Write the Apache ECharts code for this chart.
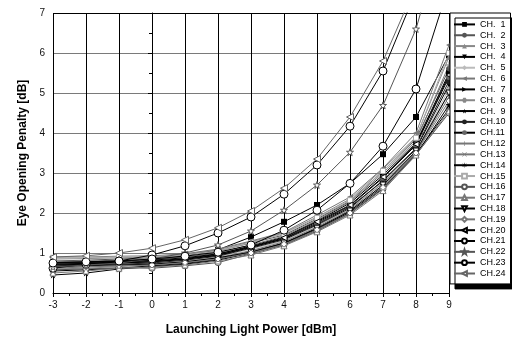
<!DOCTYPE html>
<html><head><meta charset="utf-8">
<script src="https://cdn.jsdelivr.net/npm/echarts@6/dist/echarts.min.js"></script>
<style>html,body{margin:0;padding:0;background:#fff}#c{width:512px;height:341px}</style>
</head><body><div id="c"></div>
<script>
const xValues = [-3,-2,-1,0,1,2,3,4,5,6,7,8,9];
const xTicks = [-3,-2,-1,0,1,2,3,4,5,6,7,8,9];
const yTicks = [0,1,2,3,4,5,6,7];
const channelNames = ['CH.  1','CH.  2','CH.  3','CH.  4','CH.  5','CH.  6','CH.  7','CH.  8','CH.  9','CH.10','CH.11','CH.12','CH.13','CH.14','CH.15','CH.16','CH.17','CH.18','CH.19','CH.20','CH.21','CH.22','CH.23','CH.24'];
const ch1  = [0.72,0.74,0.77,0.83,0.93,1.08,1.40,1.78,2.20,2.74,3.47,4.40,5.95];
const ch2  = [0.80,0.82,0.85,0.88,0.95,1.05,1.25,1.45,1.85,2.30,3.05,3.85,5.60];
const ch3  = [0.85,0.86,0.88,0.90,0.97,1.08,1.28,1.50,1.90,2.35,3.10,3.90,5.90];
const ch4  = [0.70,0.72,0.75,0.78,0.85,0.95,1.15,1.35,1.72,2.15,2.80,3.60,5.20];
const ch5  = [0.65,0.68,0.70,0.74,0.80,0.90,1.10,1.30,1.68,2.10,2.78,3.55,5.10];
const ch6  = [0.90,0.90,0.92,0.93,0.98,1.10,1.30,1.52,1.95,2.40,3.12,4.00,6.20];
const ch7  = [0.75,0.76,0.78,0.80,0.86,0.97,1.18,1.40,1.80,2.25,2.95,3.75,5.50];
const ch8  = [0.60,0.62,0.66,0.70,0.76,0.86,1.05,1.25,1.62,2.05,2.70,3.50,5.00];
const ch9  = [0.45,0.50,0.60,0.66,0.72,0.82,1.00,1.22,1.58,2.00,2.62,3.45,4.70];
const ch10 = [0.68,0.70,0.72,0.75,0.82,0.92,1.12,1.33,1.70,2.12,2.82,3.62,5.30];
const ch11 = [0.72,0.73,0.75,0.78,0.84,0.94,1.14,1.36,1.75,2.18,2.88,3.70,5.40];
const ch12 = [0.78,0.80,0.82,0.85,0.90,1.00,1.20,1.42,1.82,2.28,3.00,3.80,5.70];
const ch13 = [0.62,0.65,0.68,0.72,0.78,0.88,1.06,1.28,1.65,2.08,2.75,3.52,4.90];
const ch14 = [0.55,0.58,0.62,0.68,0.74,0.84,1.02,1.24,1.60,2.02,2.66,3.48,4.60];
const ch15 = [0.88,0.88,0.90,0.91,0.95,1.05,1.26,1.48,1.88,2.32,3.05,3.88,6.00];
const ch16 = [0.58,0.60,0.63,0.62,0.68,0.76,0.98,1.20,1.55,1.98,2.60,3.46,4.50];
const ch17 = [0.50,0.55,0.62,0.65,0.70,0.80,0.95,1.18,1.53,1.95,2.56,3.45,4.55];
const ch18 = [0.66,0.68,0.70,0.72,0.78,0.88,1.02,1.25,1.62,2.05,2.70,3.55,5.00];
const ch19 = [0.64,0.66,0.68,0.70,0.76,0.85,1.00,1.22,1.58,2.00,2.64,3.50,4.80];
const ch20 = [0.76,0.78,0.80,0.82,0.88,0.98,1.16,1.38,1.78,2.20,2.90,3.72,5.45];
const ch21 = [0.62,0.72,0.80,0.95,1.18,1.50,1.90,2.47,3.20,4.17,5.55,7.55,10.0];
const ch22 = [0.65,0.70,0.75,0.85,1.00,1.20,1.55,2.07,2.70,3.52,4.69,6.60,9.50];
const ch23 = [0.75,0.78,0.80,0.85,0.92,1.02,1.20,1.57,2.07,2.74,3.67,5.10,7.70];
const ch24 = [0.90,0.93,1.00,1.12,1.33,1.63,2.05,2.62,3.35,4.40,5.80,7.70,10.2];
const allData = [ch1,ch2,ch3,ch4,ch5,ch6,ch7,ch8,ch9,ch10,ch11,ch12,ch13,ch14,ch15,ch16,ch17,ch18,ch19,ch20,ch21,ch22,ch23,ch24];

const P = {
  down: 'path://M0,0L10,0L5,9Z',
  left: 'path://M9,0L9,10L0,5Z',
  right: 'path://M0,0L9,5L0,10Z',
  star: 'path://M5,0L6.2,3.5L10,3.5L7,5.8L8.1,9.5L5,7.2L1.9,9.5L3,5.8L0,3.5L3.8,3.5Z',
  hex: 'path://M2.5,0L7.5,0L10,5L7.5,10L2.5,10L0,5Z',
  plus: 'path://M4.4,0L5.6,0L5.6,4.4L10,4.4L10,5.6L5.6,5.6L5.6,10L4.4,10L4.4,5.6L0,5.6L0,4.4L4.4,4.4Z',
  cross: 'path://M0.8,0L5,4.2L9.2,0L10,0.8L5.8,5L10,9.2L9.2,10L5,5.8L0.8,10L0,9.2L4.2,5L0,0.8Z',
  aster: 'path://M4.5,0L5.5,0L5.5,3.8L8.7,1.3L9.3,2.1L6.2,4.5L10,4.5L10,5.5L6.2,5.5L9.3,7.9L8.7,8.7L5.5,6.2L5.5,10L4.5,10L4.5,6.2L1.3,8.7L0.7,7.9L3.8,5.5L0,5.5L0,4.5L3.8,4.5L0.7,2.1L1.3,1.3L4.5,3.8Z'
};
// [symbol, line color, fill color, size]
const styles = [
  ['rect','#000','#000',6],
  ['circle','#555','#555',6],
  ['triangle','#888','#888',6],
  [P.down,'#000','#000',6],
  ['diamond','#bbb','#bbb',6],
  [P.left,'#777','#777',6],
  [P.right,'#000','#000',6],
  [P.hex,'#888','#888',6],
  [P.star,'#000','#000',7],
  ['circle','#222','#222',7],
  ['circle','#000','#666',6],
  [P.plus,'#777','#777',7],
  [P.cross,'#777','#777',6],
  [P.aster,'#000','#000',7],
  ['rect','#aaa','#fff',5],
  ['circle','#555','#fff',6],
  ['triangle','#777','#fff',6],
  [P.down,'#000','#fff',6],
  ['diamond','#777','#fff',6],
  [P.left,'#000','#fff',6],
  ['circle','#000','#fff',8],
  [P.star,'#555','#fff',7],
  ['circle','#000','#fff',8],
  [P.left,'#666','#fff',7]
];
const FONT = 'Liberation Sans, Arial, sans-serif';
const series = allData.map((d, i) => {
  const s = styles[i];
  const open = s[2] === '#fff';
  return {
    name: channelNames[i],
    type: 'line',
    data: xValues.map((x, j) => [x, d[j]]),
    symbol: s[0],
    symbolSize: s[3],
    showAllSymbol: true,
    clip: true,
    lineStyle: { color: s[1], width: 1, type: 'solid' },
    itemStyle: { color: s[2], borderColor: s[1], borderWidth: open ? 1 : 0 },
    emphasis: { disabled: true },
    animation: false
  };
});
const ySplitColors = yTicks.map(v => v === 7 ? '#000' : '#7a7a7a');
const chart = echarts.init(document.getElementById('c'), null, { renderer: 'canvas' });
chart.setOption({
  animation: false,
  backgroundColor: '#fff',
  grid: { left: 53, right: 63, top: 13, bottom: 47, containLabel: false },
  xAxis: {
    type: 'value', min: xTicks[0], max: xTicks[xTicks.length - 1], interval: 1,
    name: 'Launching Light Power [dBm]', nameLocation: 'middle', nameGap: 31,
    nameTextStyle: { fontFamily: FONT, fontSize: 12, fontWeight: 'bold', color: '#000' },
    axisLine: { show: true, onZero: false, lineStyle: { color: '#000', width: 1, type: 'solid' } },
    axisTick: { show: true, length: 4, lineStyle: { color: '#000', type: 'solid' } },
    minorTick: { show: true, splitNumber: 2, length: 3, lineStyle: { color: '#000', type: 'solid' } },
    axisLabel: { fontFamily: FONT, fontSize: 10, color: '#111', margin: 7 },
    splitLine: { show: true, lineStyle: { color: '#000', width: 1, type: 'solid' } }
  },
  yAxis: {
    type: 'value', min: yTicks[0], max: yTicks[yTicks.length - 1], interval: 1,
    name: 'Eye Opening Penalty [dB]', nameLocation: 'middle', nameGap: 24,
    nameTextStyle: { fontFamily: FONT, fontSize: 12, fontWeight: 'bold', color: '#000' },
    axisLine: { show: true, lineStyle: { color: '#000', width: 1, type: 'solid' } },
    axisTick: { show: true, length: 4, lineStyle: { color: '#000', type: 'solid' } },
    minorTick: { show: true, splitNumber: 2, length: 3, lineStyle: { color: '#000', type: 'solid' } },
    axisLabel: { fontFamily: FONT, fontSize: 10, color: '#111', margin: 8 },
    splitLine: { show: true, lineStyle: { color: ySplitColors, width: 1, type: 'solid' } }
  },
  legend: {
    orient: 'vertical', left: 450, top: 13,
    data: channelNames,
    itemWidth: 21, itemHeight: 6, itemGap: 0,
    padding: [6, 5, 5, 3],
    backgroundColor: '#fff', borderColor: '#000', borderWidth: 1,
    shadowColor: '#000', shadowBlur: 0, shadowOffsetX: 5, shadowOffsetY: 5,
    textStyle: { fontFamily: FONT, fontSize: 9, color: '#000', lineHeight: 10.83 },
    selectedMode: false
  },
  series: series
});
</script></body></html>
